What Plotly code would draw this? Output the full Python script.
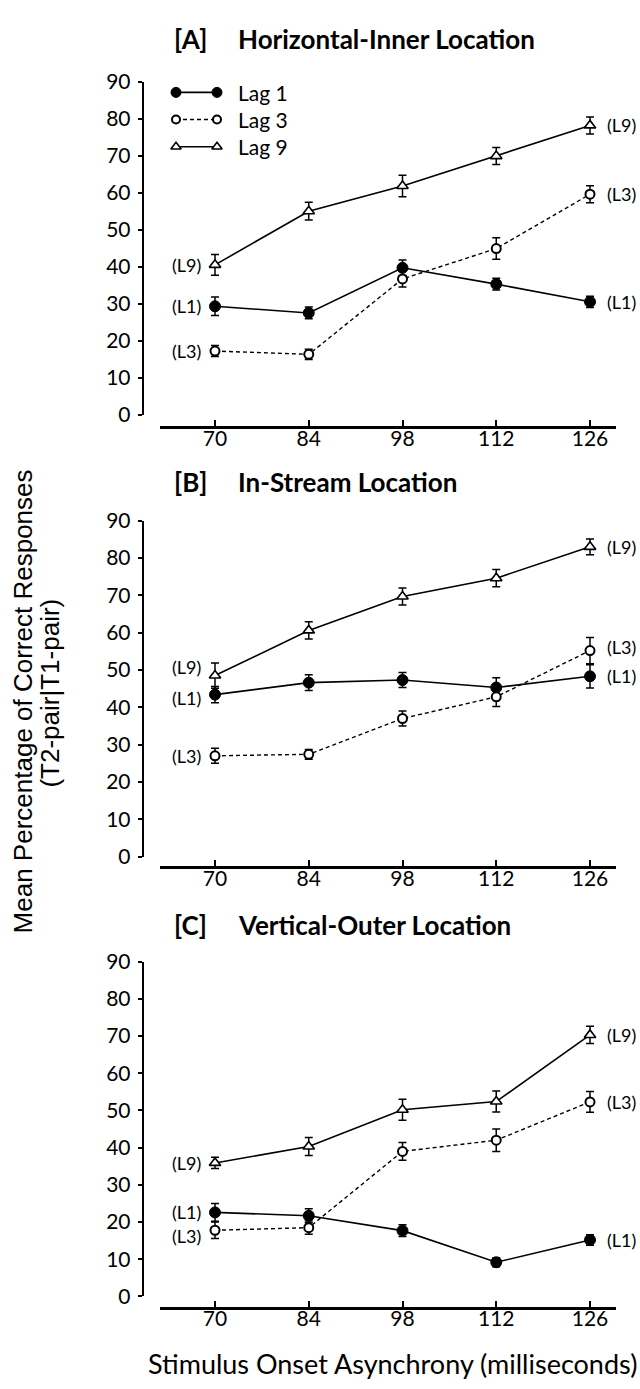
import plotly.graph_objects as go

W, H = 640, 1389

# ---------------- data ----------------
soa = [70, 84, 98, 112, 126]
y_ticks = [0, 10, 20, 30, 40, 50, 60, 70, 80, 90]
series_names = ["Lag 1", "Lag 3", "Lag 9"]
short_labels = ["(L1)", "(L3)", "(L9)"]
panel_tags = ["[A]", "[B]", "[C]"]
panel_names = ["Horizontal-Inner Location", "In-Stream Location", "Vertical-Outer Location"]
x_title = "Stimulus Onset Asynchrony (milliseconds)"
y_title_1 = "Mean Percentage of Correct Responses"
y_title_2 = "(T2-pair|T1-pair)"

A_lag1 = [29.3, 27.5, 39.7, 35.3, 30.5]
A_lag1_err = [2.5, 1.6, 2.1, 1.6, 1.5]
A_lag3 = [17.2, 16.3, 36.7, 44.9, 59.6]
A_lag3_err = [1.5, 1.4, 2.2, 2.9, 2.3]
A_lag9 = [40.5, 55.0, 61.8, 69.9, 78.2]
A_lag9_err = [2.8, 2.4, 2.9, 2.3, 2.3]

B_lag1 = [43.4, 46.6, 47.3, 45.3, 48.3]
B_lag1_err = [2.2, 2.1, 2.0, 2.6, 3.1]
B_lag3 = [27.0, 27.4, 37.0, 42.8, 55.2]
B_lag3_err = [2.0, 1.3, 2.0, 2.6, 3.5]
B_lag9 = [48.5, 60.6, 69.7, 74.6, 83.0]
B_lag9_err = [3.4, 2.3, 2.3, 2.3, 2.1]

C_lag1 = [22.6, 21.7, 17.7, 9.2, 15.2]
C_lag1_err = [2.4, 1.9, 1.6, 1.2, 1.4]
C_lag3 = [17.8, 18.5, 39.0, 42.0, 52.3]
C_lag3_err = [2.2, 1.8, 2.4, 3.0, 2.8]
C_lag9 = [35.9, 40.3, 50.2, 52.4, 70.3]
C_lag9_err = [1.5, 2.4, 2.8, 2.8, 2.3]

panel_data = [
    [(A_lag1, A_lag1_err), (A_lag3, A_lag3_err), (A_lag9, A_lag9_err)],
    [(B_lag1, B_lag1_err), (B_lag3, B_lag3_err), (B_lag9, B_lag9_err)],
    [(C_lag1, C_lag1_err), (C_lag3, C_lag3_err), (C_lag9, C_lag9_err)],
]

# ---------------- styling / geometry ----------------
TICK_FONT = dict(family="Lato", size=21, color="black")
LABEL_FONT = dict(family="Lato", size=18, color="black")
TITLE_FONT = dict(family="Lato", size=26, color="black", weight="bold")

# pixel geometry of each panel: y-pixel of value 0, of value 90, x-axis line, title centre
geom = [
    dict(y0=408, y90=69, xline=421, ty=25),
    dict(y0=858, y90=516, xline=869, ty=477),
    dict(y0=1306, y90=965, xline=1318, ty=928),
]
X_LEFT_PX, X_RIGHT_PX = 160, 616
X70_PX, X126_PX = 215, 590
YAXIS_PX = 142.7
ppu = (X126_PX - X70_PX) / (soa[-1] - soa[0])
x_range = [soa[0] - (X70_PX - X_LEFT_PX) / ppu, soa[-1] + (X_RIGHT_PX - X126_PX) / ppu]

styles = [
    dict(line=dict(color="black", width=1.6),
         marker=dict(symbol="circle", size=11, color="black", line=dict(color="black", width=1))),
    dict(line=dict(color="black", width=1.4, dash="4px,3px"),
         marker=dict(symbol="circle", size=9, color="white", line=dict(color="black", width=2))),
    dict(line=dict(color="black", width=1.6),
         marker=dict(symbol="triangle-up", size=10, color="white", line=dict(color="black", width=1.6))),
]
legend_styles = [
    dict(symbol="circle", size=10, color="black", line=dict(color="black", width=1)),
    dict(symbol="circle", size=8, color="white", line=dict(color="black", width=2)),
    dict(symbol="triangle-up", size=9, color="white", line=dict(color="black", width=1.6)),
]

# pixel nudges for the (Lx) end labels: {(panel, side, series): yshift}
label_nudge = {
    (1, "left", 2): 9, (1, "left", 0): -3,
    (1, "right", 1): 4,
    (2, "left", 1): -6,
}

fig = go.Figure()
annotations = []
layout_axes = {}

for i, g in enumerate(geom):
    n = "" if i == 0 else str(i + 1)
    xa, ya = "x" + n, "y" + n
    for s, (vals, errs) in enumerate(panel_data[i]):
        st = styles[s]
        fig.add_trace(go.Scatter(
            x=soa, y=vals, mode="lines+markers", name=series_names[s],
            line=st["line"], marker=st["marker"],
            error_y=dict(type="data", array=errs, visible=True, color="black",
                         thickness=1.5, width=4),
            xaxis=xa, yaxis=ya, showlegend=False, cliponaxis=False,
        ))
        # end labels
        annotations.append(dict(
            xref=xa, yref=ya, x=soa[0], y=vals[0], text=short_labels[s],
            xanchor="right", yanchor="middle", xshift=-12,
            yshift=label_nudge.get((i, "left", s), 0), showarrow=False, font=LABEL_FONT))
        annotations.append(dict(
            xref=xa, yref=ya, x=soa[-1], y=vals[-1], text=short_labels[s],
            xanchor="left", yanchor="middle", xshift=15,
            yshift=label_nudge.get((i, "right", s), 0), showarrow=False, font=LABEL_FONT))

    layout_axes["xaxis" + n] = dict(
        domain=[X_LEFT_PX / W, X_RIGHT_PX / W], range=x_range, anchor="free",
        position=1 - g["xline"] / H, tickvals=soa, ticks="inside", ticklen=6,
        tickwidth=1.5, tickcolor="black", showline=True, linewidth=3, linecolor="black",
        showgrid=False, zeroline=False, tickfont=TICK_FONT, fixedrange=True,
        ticklabelstandoff=-9,
    )
    layout_axes["yaxis" + n] = dict(
        domain=[1 - g["y0"] / H, 1 - g["y90"] / H], range=[0, 90], anchor="free",
        position=YAXIS_PX / W, tickvals=y_ticks, ticks="outside", ticklen=4,
        tickwidth=2, tickcolor="black", showline=True, linewidth=2, linecolor="black",
        showgrid=False, zeroline=False, tickfont=TICK_FONT, ticklabelstandoff=3,
    )
    # overlay axis for the part of the tick crossing to the inside
    layout_axes["yaxis" + str(4 + i)] = dict(
        overlaying=ya, anchor="free", position=YAXIS_PX / W, range=[0, 90],
        tickvals=y_ticks, ticks="inside", ticklen=4, tickwidth=2, tickcolor="black",
        showticklabels=False, showline=False, showgrid=False, zeroline=False,
    )
    # panel titles
    annotations.append(dict(xref="paper", yref="paper", x=172 / W, y=1 - g["ty"] / H,
                            text=panel_tags[i], xanchor="left", yanchor="middle",
                            showarrow=False, font=TITLE_FONT))
    annotations.append(dict(xref="paper", yref="paper", x=236 / W, y=1 - g["ty"] / H,
                            text=panel_names[i], xanchor="left", yanchor="middle",
                            showarrow=False, font=TITLE_FONT))

# ---------------- legend (drawn on its own hidden axes) ----------------
LEG_TOP, LEG_BOTTOM = 66, 149
layout_axes["xaxis7"] = dict(domain=[176 / W, 217 / W], range=[0, 1], visible=False,
                             anchor="y7")
layout_axes["yaxis7"] = dict(domain=[1 - LEG_BOTTOM / H, 1 - LEG_TOP / H], range=[0.5, 3.5],
                             visible=False, anchor="x7")
for s in range(3):
    row = 3 - s
    st = styles[s]
    fig.add_trace(go.Scatter(
        x=[0, 1], y=[row, row], mode="lines+markers", line=st["line"],
        marker=legend_styles[s], xaxis="x7", yaxis="y7", showlegend=False,
        cliponaxis=False, hoverinfo="skip",
    ))
    annotations.append(dict(xref="x7", yref="y7", x=1, y=row, text=series_names[s],
                            xanchor="left", yanchor="middle", xshift=19, showarrow=False,
                            font=dict(family="Lato", size=21, color="black")))

# ---------------- axis titles ----------------
annotations.append(dict(xref="paper", yref="paper", x=392 / W, y=1 - 1374 / H,
                        text=x_title, xanchor="center", yanchor="middle", showarrow=False,
                        font=dict(family="Lato", size=27, color="black")))
annotations.append(dict(xref="paper", yref="paper", x=23 / W, y=1 - 700 / H,
                        text=y_title_1, textangle=-90, xanchor="center", yanchor="middle",
                        showarrow=False,
                        font=dict(family="Liberation Sans", size=26, color="black")))
annotations.append(dict(xref="paper", yref="paper", x=50 / W, y=1 - 692 / H,
                        text=y_title_2, textangle=-90, xanchor="center", yanchor="middle",
                        showarrow=False,
                        font=dict(family="Liberation Sans", size=26, color="black")))

fig.update_layout(
    width=W, height=H, autosize=False,
    margin=dict(l=0, r=0, t=0, b=0),
    paper_bgcolor="white", plot_bgcolor="white",
    showlegend=False, annotations=annotations,
    **layout_axes,
)

fig.write_html("out.html", config={"displayModeBar": False})
